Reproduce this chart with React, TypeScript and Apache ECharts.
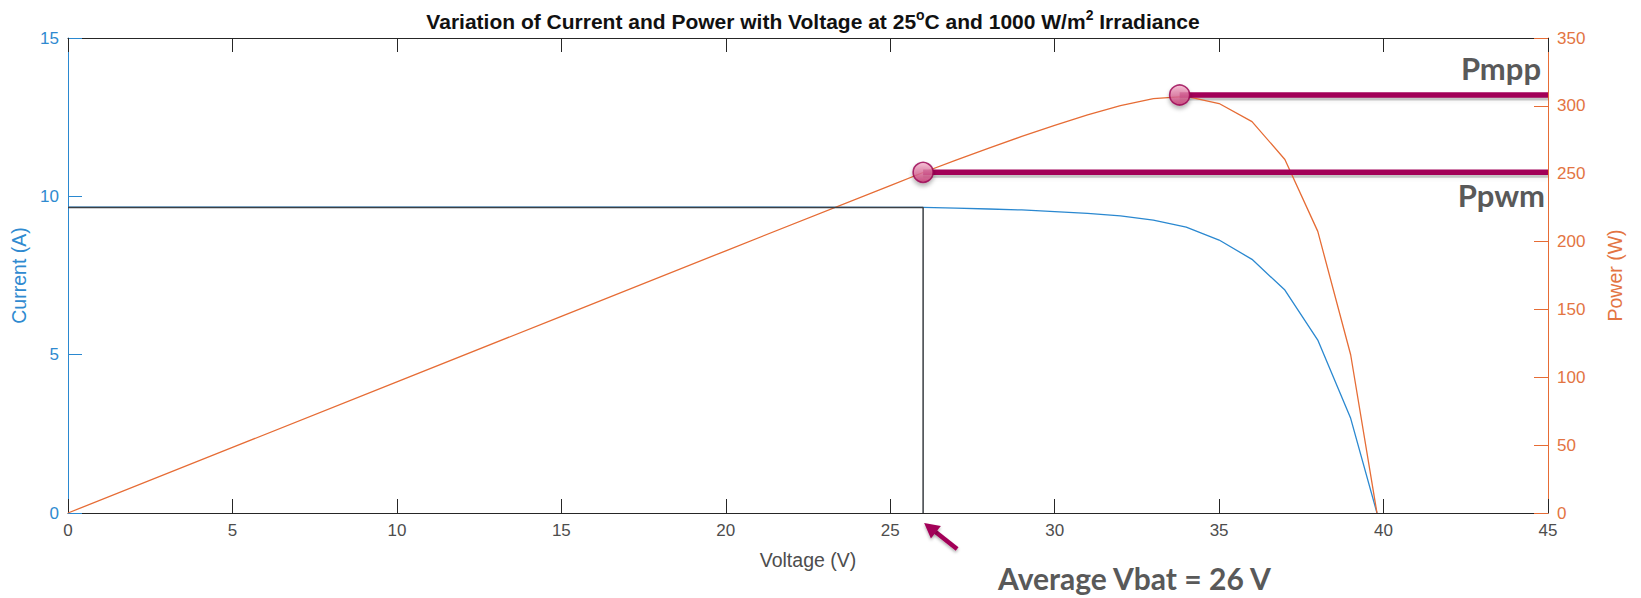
import React, { useEffect, useRef } from 'react';
import * as echarts from 'echarts';

// ---- data ----
const voltage = [0, 5, 10, 15, 20, 25, 26, 27, 28, 29, 30, 31, 32, 33, 34, 35, 36, 37, 38, 39, 39.8];
const current = [9.66, 9.66, 9.66, 9.66, 9.66, 9.65, 9.65, 9.63, 9.6, 9.57, 9.52, 9.46, 9.38, 9.25, 9.03, 8.62, 8.01, 7.04, 5.46, 2.99, 0];
const power = [0, 48.3, 96.6, 144.9, 193.2, 241.3, 250.9, 260.0, 268.8, 277.5, 285.6, 293.3, 300.2, 305.3, 307.0, 301.7, 288.4, 260.5, 207.5, 116.6, 0];

const voltageTicks = [0, 5, 10, 15, 20, 25, 30, 35, 40, 45];
const currentTicks = [0, 5, 10, 15];
const powerTicks = [0, 50, 100, 150, 200, 250, 300, 350];

const vbat = 26;
const iAtVbat = 9.65;
const vPwm = 26;
const pPwm = 251;
const vMpp = 33.8;
const pMpp = 308;

const titleText = 'Variation of Current and Power with Voltage at 25{s|o}C and 1000 W/m{s|2} Irradiance';
const vbatText = 'Average Vbat = 26 V';

const BLUE = '#2a88d0';
const BLUE_TEXT = '#2f8ad0';
const ORANGE = '#e66c35';
const ORANGE_TEXT = '#e37442';
const DARK = '#262626';
const MAGENTA = '#a20058';
const NOTE = '#595959';
const FONT = '"Liberation Sans", Arial, Helvetica, sans-serif';
const NOTE_FONT = 'Lato, "Open Sans", sans-serif';

export default function App() {
  const ref = useRef<HTMLDivElement>(null);

  useEffect(() => {
    if (!ref.current) return;
    const chart = echarts.init(ref.current, null, { renderer: 'svg' });

    const step = (t: number[]) => t[1] - t[0];
    const xMin = voltageTicks[0];
    const xMax = voltageTicks[voltageTicks.length - 1];

    const dotColor = new echarts.graphic.LinearGradient(0, 0, 0, 1, [
      { offset: 0, color: '#f6b6cf' },
      { offset: 1, color: '#c5326f' },
    ]);

    const option: any = {
      animation: false,
      backgroundColor: '#ffffff',
      title: {
        text: titleText,
        left: 808,
        textAlign: 'center',
        top: 3,
        textStyle: {
          fontFamily: FONT,
          fontSize: 21,
          fontWeight: 'bold',
          color: '#111111',
          lineHeight: 27,
          rich: {
            s: {
              fontFamily: FONT,
              fontSize: 14,
              fontWeight: 'bold',
              color: '#111111',
              verticalAlign: 'top',
              lineHeight: 15,
            },
          },
        },
      },
      grid: { left: 68, right: 93, top: 38, bottom: 85, outerBoundsMode: 'none' },
      xAxis: [
        {
          type: 'value',
          position: 'bottom',
          min: xMin,
          max: xMax,
          interval: step(voltageTicks),
          name: 'Voltage (V)',
          nameLocation: 'middle',
          nameGap: 37,
          nameTextStyle: { fontFamily: FONT, fontSize: 19.5, color: '#4d4d4d' },
          axisLine: { show: true, onZero: false, lineStyle: { color: DARK, width: 1 } },
          axisTick: { show: true, inside: true, length: 14, lineStyle: { color: DARK, width: 1 } },
          axisLabel: { show: true, margin: 9, fontFamily: FONT, fontSize: 17, color: '#4d4d4d' },
          splitLine: { show: false },
        },
        {
          type: 'value',
          position: 'top',
          min: xMin,
          max: xMax,
          interval: step(voltageTicks),
          axisLine: { show: true, onZero: false, lineStyle: { color: DARK, width: 1 } },
          axisTick: { show: true, inside: true, length: 14, lineStyle: { color: DARK, width: 1 } },
          axisLabel: { show: false },
          splitLine: { show: false },
        },
      ],
      yAxis: [
        {
          type: 'value',
          position: 'left',
          min: currentTicks[0],
          max: currentTicks[currentTicks.length - 1],
          interval: step(currentTicks),
          name: 'Current (A)',
          nameLocation: 'middle',
          nameRotate: 90,
          nameGap: 32,
          nameTextStyle: { fontFamily: FONT, fontSize: 19.5, color: BLUE_TEXT },
          axisLine: { show: true, onZero: false, lineStyle: { color: BLUE, width: 1 } },
          axisTick: { show: true, inside: true, length: 14, lineStyle: { color: BLUE, width: 1 } },
          axisLabel: { show: true, margin: 9, fontFamily: FONT, fontSize: 17, color: BLUE_TEXT },
          splitLine: { show: false },
        },
        {
          type: 'value',
          position: 'right',
          min: powerTicks[0],
          max: powerTicks[powerTicks.length - 1],
          interval: step(powerTicks),
          name: 'Power (W)',
          nameLocation: 'middle',
          nameRotate: 90,
          nameGap: 57,
          nameTextStyle: { fontFamily: FONT, fontSize: 19.5, color: ORANGE_TEXT },
          axisLine: { show: true, onZero: false, lineStyle: { color: ORANGE, width: 1 } },
          axisTick: { show: true, inside: true, length: 14, lineStyle: { color: ORANGE, width: 1 } },
          axisLabel: { show: true, margin: 9, fontFamily: FONT, fontSize: 17, color: ORANGE_TEXT },
          splitLine: { show: false },
        },
      ],
      series: [
        {
          name: 'Current',
          type: 'line',
          xAxisIndex: 0,
          yAxisIndex: 0,
          data: voltage.map((v, i) => [v, current[i]]),
          showSymbol: false,
          symbol: 'none',
          lineStyle: { color: BLUE, width: 1.3 },
          z: 3,
        },
        {
          name: 'Power',
          type: 'line',
          xAxisIndex: 0,
          yAxisIndex: 1,
          data: voltage.map((v, i) => [v, power[i]]),
          showSymbol: false,
          symbol: 'none',
          lineStyle: { color: ORANGE, width: 1.3 },
          z: 3,
        },
        {
          name: 'Vbat',
          type: 'line',
          xAxisIndex: 0,
          yAxisIndex: 0,
          data: [
            [xMin, iAtVbat],
            [vbat, iAtVbat],
            [vbat, 0],
          ],
          showSymbol: false,
          symbol: 'none',
          lineStyle: { color: '#3b3f44', width: 1.5 },
          z: 4,
        },
        {
          name: 'Ppwm line',
          type: 'line',
          xAxisIndex: 0,
          yAxisIndex: 1,
          data: [
            [vPwm, pPwm],
            [xMax, pPwm],
          ],
          showSymbol: false,
          symbol: 'none',
          lineStyle: { color: MAGENTA, width: 5.5 },
          z: 5,
        },
        {
          name: 'Pmpp line',
          type: 'line',
          xAxisIndex: 0,
          yAxisIndex: 1,
          data: [
            [vMpp, pMpp],
            [xMax, pMpp],
          ],
          showSymbol: false,
          symbol: 'none',
          lineStyle: { color: MAGENTA, width: 5.5 },
          z: 5,
        },
        {
          name: 'Points',
          type: 'scatter',
          xAxisIndex: 0,
          yAxisIndex: 1,
          data: [
            [vPwm, pPwm],
            [vMpp, pMpp],
          ],
          symbol: 'circle',
          symbolSize: 20,
          itemStyle: {
            color: dotColor,
            borderColor: '#980050',
            borderWidth: 1.6,
            shadowBlur: 4,
            shadowColor: 'rgba(0,0,0,0.35)',
            shadowOffsetY: 3,
          },
          z: 6,
        },
      ],
    };

    chart.setOption(option);

    const px = (seriesIndex: number, pt: number[]) =>
      chart.convertToPixel({ seriesIndex }, pt) as number[];

    const [vx, axisY] = px(0, [vbat, 0]);
    const [rightX, yMpp] = px(1, [xMax, pMpp]);
    const [, yPwm] = px(1, [xMax, pPwm]);
    const [xPwmStart] = px(1, [vPwm, pPwm]);
    const [xMppStart] = px(1, [vMpp, pMpp]);

    // arrow pointing at Vbat on the voltage axis
    const tip = [vx + 1, axisY + 10];
    const tail = [tip[0] + 33, tip[1] + 26];
    const dx = tip[0] - tail[0];
    const dy = tip[1] - tail[1];
    const len = Math.sqrt(dx * dx + dy * dy);
    const ux = dx / len;
    const uy = dy / len;
    const nx = -uy;
    const ny = ux;
    const headLen = 15;
    const headHalf = 8;
    const base = [tip[0] - ux * headLen, tip[1] - uy * headLen];

    const shadowRect = (x1: number, x2: number, y: number) => ({
      type: 'rect',
      shape: { x: x1, y: y + 1.5, width: x2 - x1, height: 4 },
      style: { fill: 'rgba(0,0,0,0.2)', shadowBlur: 4, shadowColor: 'rgba(0,0,0,0.3)', shadowOffsetY: 1 },
      z: 1,
    });

    const noteFont = `bold 31px ${NOTE_FONT}`;

    chart.setOption({
      graphic: [
        shadowRect(xPwmStart, rightX, yPwm),
        shadowRect(xMppStart, rightX, yMpp),
        {
          type: 'line',
          shape: { x1: tail[0], y1: tail[1], x2: base[0] + ux * 2, y2: base[1] + uy * 2 },
          style: { stroke: MAGENTA, lineWidth: 4.5, shadowBlur: 3, shadowColor: 'rgba(0,0,0,0.3)', shadowOffsetY: 2 },
          z: 10,
        },
        {
          type: 'polygon',
          shape: {
            points: [
              [tip[0], tip[1]],
              [base[0] + nx * headHalf, base[1] + ny * headHalf],
              [base[0] - nx * headHalf, base[1] - ny * headHalf],
            ],
          },
          style: { fill: MAGENTA, shadowBlur: 3, shadowColor: 'rgba(0,0,0,0.3)', shadowOffsetY: 2 },
          z: 10,
        },
        {
          type: 'text',
          x: vx + 75,
          y: axisY + 65,
          style: {
            text: vbatText,
            fill: NOTE,
            font: `bold 30px ${NOTE_FONT}`,
            textAlign: 'left',
            textVerticalAlign: 'middle',
          },
          z: 10,
        },
        {
          type: 'text',
          x: rightX - 7,
          y: yMpp - 27,
          style: {
            text: 'Pmpp',
            fill: NOTE,
            font: noteFont,
            textAlign: 'right',
            textVerticalAlign: 'middle',
          },
          z: 10,
        },
        {
          type: 'text',
          x: rightX - 3,
          y: yPwm + 23,
          style: {
            text: 'Ppwm',
            fill: NOTE,
            font: noteFont,
            textAlign: 'right',
            textVerticalAlign: 'middle',
          },
          z: 10,
        },
      ],
    });

    return () => chart.dispose();
  }, []);

  return (
    <div
      ref={ref}
      style={{ position: 'fixed', left: 0, top: 0, width: 1641, height: 598, background: '#ffffff' }}
    />
  );
}
